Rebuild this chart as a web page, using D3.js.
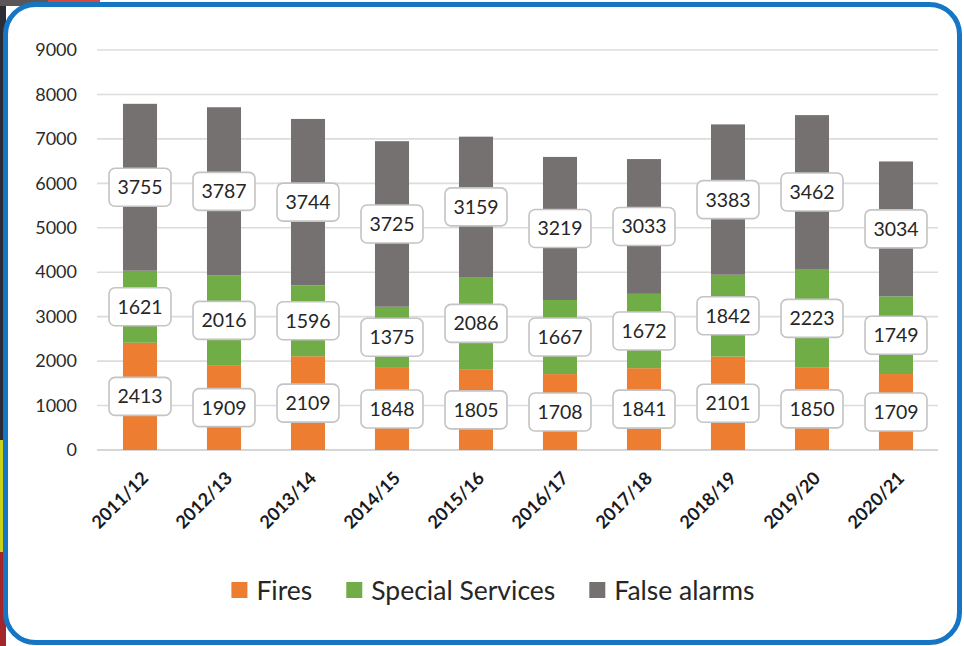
<!DOCTYPE html>
<html>
<head>
<meta charset="utf-8">
<script src="https://cdn.jsdelivr.net/npm/d3@7"></script>
<style>
  html, body { margin: 0; padding: 0; background: #fff; }
  svg { display: block; }
  text { font-family: Lato, "Open Sans", sans-serif; }
</style>
</head>
<body>
<svg id="chart" width="964" height="646"></svg>
<script>
// Incidents attended per year, by type
const years = ["2011/12", "2012/13", "2013/14", "2014/15", "2015/16",
               "2016/17", "2017/18", "2018/19", "2019/20", "2020/21"];
const fires = [2413, 1909, 2109, 1848, 1805, 1708, 1841, 2101, 1850, 1709];
const specialServices = [1621, 2016, 1596, 1375, 2086, 1667, 1672, 1842, 2223, 1749];
const falseAlarms = [3755, 3787, 3744, 3725, 3159, 3219, 3033, 3383, 3462, 3034];
const seriesNames = ["Fires", "Special Services", "False alarms"];
const seriesColors = ["#ED7D31", "#70AD47", "#767171"];
const yTicks = [0, 1000, 2000, 3000, 4000, 5000, 6000, 7000, 8000, 9000];

const svg = d3.select("#chart");

// Backdrop behind the framed panel
svg.append("rect").attr("x", 0).attr("y", 0).attr("width", 964).attr("height", 646).attr("fill", "#fff");
const edge = svg.append("g");
edge.append("rect").attr("x", 0).attr("y", 0).attr("width", 6).attr("height", 440).attr("fill", "#2b2d36");
edge.append("rect").attr("x", 0).attr("y", 440).attr("width", 6).attr("height", 112).attr("fill", "#c9d11a");
edge.append("rect").attr("x", 0).attr("y", 552).attr("width", 6).attr("height", 94).attr("fill", "#a3262a");
edge.append("rect").attr("x", 0).attr("y", 0).attr("width", 48).attr("height", 6).attr("fill", "#5a5658");
edge.append("rect").attr("x", 48).attr("y", 0).attr("width", 52).attr("height", 6).attr("fill", "#d8453a");

// Rounded blue frame
svg.append("rect")
  .attr("x", 5.5).attr("y", 4.5).attr("width", 954).attr("height", 638)
  .attr("rx", 30).attr("ry", 30)
  .attr("fill", "#fff").attr("stroke", "#1676c4").attr("stroke-width", 5);

const plot = { left: 98, right: 938, top: 50, bottom: 450 };

const x = d3.scaleBand()
  .domain(years)
  .range([plot.left, plot.right])
  .paddingInner(0.595)
  .paddingOuter(0.2975);

const y = d3.scaleLinear()
  .domain([0, 9000])
  .range([plot.bottom, plot.top]);

// Gridlines
svg.append("g")
  .selectAll("line")
  .data(yTicks)
  .join("line")
  .attr("x1", plot.left - 1).attr("x2", plot.right)
  .attr("y1", d => y(d)).attr("y2", d => y(d))
  .attr("stroke", d => d === 0 ? "#c8c8c8" : "#dcdcdc")
  .attr("stroke-width", 1.6);

// Y axis labels
const yAxis = d3.axisLeft(y).tickValues(yTicks).tickSize(0).tickPadding(0).tickFormat(d3.format("d"));
const yg = svg.append("g").attr("transform", `translate(77,0)`).call(yAxis);
yg.select(".domain").remove();
yg.selectAll("text")
  .attr("font-size", 18).attr("fill", "#2b2b2b")
  .style("font-family", "Lato, 'Open Sans', sans-serif");

// Stacked data
const table = years.map((yr, i) => ({
  year: yr,
  "Fires": fires[i],
  "Special Services": specialServices[i],
  "False alarms": falseAlarms[i]
}));
const stacked = d3.stack().keys(seriesNames)(table);

const layers = svg.append("g")
  .selectAll("g")
  .data(stacked)
  .join("g")
  .attr("fill", (d, i) => seriesColors[i]);

layers.selectAll("rect")
  .data(d => d)
  .join("rect")
  .attr("x", d => x(d.data.year))
  .attr("width", x.bandwidth())
  .attr("y", d => y(d[1]))
  .attr("height", d => y(d[0]) - y(d[1]));

// Value callouts centred on each segment
const labelData = stacked.flatMap(layer => layer.map(d => ({
  year: d.data.year,
  value: d.data[layer.key],
  mid: (d[0] + d[1]) / 2
})));

const labels = svg.append("g")
  .selectAll("g")
  .data(labelData)
  .join("g")
  .attr("transform", d => `translate(${x(d.year) + x.bandwidth() / 2},${y(d.mid)})`);

labels.append("rect")
  .attr("x", -31).attr("y", -19).attr("width", 62).attr("height", 38)
  .attr("rx", 6).attr("ry", 6)
  .attr("fill", "#fff").attr("stroke", "#c4c4c4").attr("stroke-width", 1.6);

labels.append("text")
  .attr("text-anchor", "middle")
  .attr("dy", "0.36em")
  .attr("font-size", 19.5)
  .attr("fill", "#262626")
  .text(d => d.value);

// X axis category labels, rotated
const xAxis = d3.axisBottom(x).tickSize(0).tickPadding(0);
const xg = svg.append("g").attr("transform", `translate(0,${plot.bottom})`).call(xAxis);
xg.select(".domain").remove();
xg.selectAll("text")
  .attr("text-anchor", "end")
  .attr("font-size", 18)
  .attr("font-weight", "bold")
  .attr("fill", "#1a1a1a")
  .style("font-family", "Lato, 'Open Sans', sans-serif")
  .attr("transform", "translate(5,25) rotate(-45)")
  .attr("dy", "0.35em")
  .attr("y", 0);

// Legend
const legend = svg.append("g").attr("transform", "translate(0,590)");
const items = legend.selectAll("g")
  .data(seriesNames)
  .join("g");
items.append("rect")
  .attr("y", -8).attr("width", 16).attr("height", 16)
  .attr("fill", (d, i) => seriesColors[i]);
items.append("text")
  .attr("x", 25)
  .attr("dy", "0.36em")
  .attr("font-size", 26.5)
  .attr("fill", "#262626")
  .text(d => d);

let cursor = 0;
const gap = 34;
const widths = [];
items.each(function () {
  const w = 25 + this.querySelector("text").getComputedTextLength();
  widths.push(w);
});
const total = d3.sum(widths) + gap * (widths.length - 1);
cursor = 493 - total / 2;
items.attr("transform", (d, i) => {
  const t = `translate(${cursor},0)`;
  cursor += widths[i] + gap;
  return t;
});
</script>
</body>
</html>
